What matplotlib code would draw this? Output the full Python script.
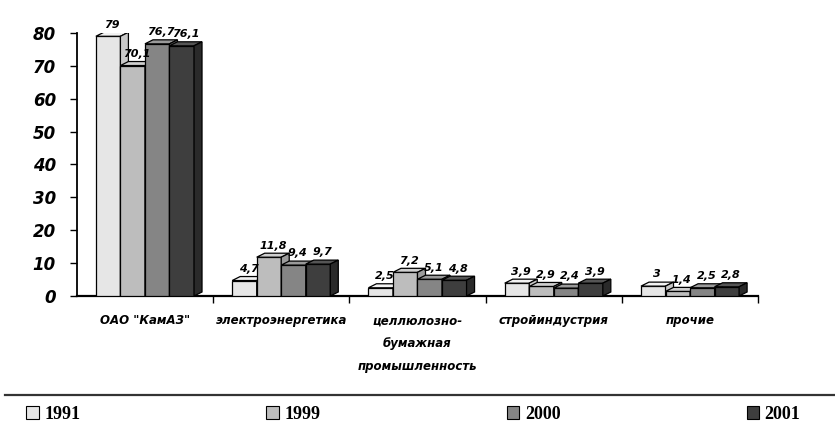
import matplotlib.pyplot as plt
from matplotlib.patches import Polygon, Patch
from matplotlib.lines import Line2D
import numpy as np

categories = ['ОАО "КамАЗ"', 'электроэнергетика', 'целлюлозно-\nбумажная\nпромышленность',
              'стройиндустрия', 'прочие']
years = ['1991', '1999', '2000', '2001']
v1991 = [79, 4.7, 2.5, 3.9, 3]
v1999 = [70.1, 11.8, 7.2, 2.9, 1.4]
v2000 = [76.7, 9.4, 5.1, 2.4, 2.5]
v2001 = [76.1, 9.7, 4.8, 3.9, 2.8]
series = [v1991, v1999, v2000, v2001]

front = ['#e6e6e6', '#bdbdbd', '#858585', '#3e3e3e']
top = ['#f2f2f2', '#cfcfcf', '#9a9a9a', '#555555']
side = ['#c8c8c8', '#9c9c9c', '#666666', '#2a2a2a']

fig = plt.figure(figsize=(8.35, 4.34), dpi=100)
ax = fig.add_axes([0.092, 0.318, 0.816, 0.606])

ax.set_xlim(-0.5, 4.5)
ax.set_ylim(0, 80)

w = 0.18
# 3d depth: ~8 px right, ~4 px up
ax_w_px = 0.816 * 835
ax_h_px = 0.606 * 434
dx = 8 * 5.0 / ax_w_px
dy = 4 * 80.0 / ax_h_px

x = np.arange(len(categories))
z = 3
for j in range(len(categories)):
    for i, vals in enumerate(series):
        xc = x[j] + (i - 1.5) * w
        h = vals[j]
        x0, x1 = xc - w / 2, xc + w / 2
        ax.bar(xc, h, w, color=front[i], edgecolor='black', linewidth=0.9, zorder=z)
        ax.add_patch(Polygon([(x0, h), (x1, h), (x1 + dx, h + dy), (x0 + dx, h + dy)],
                             closed=True, facecolor=top[i], edgecolor='black',
                             linewidth=0.9, zorder=z + 0.1))
        ax.add_patch(Polygon([(x1, 0), (x1 + dx, dy), (x1 + dx, h + dy), (x1, h)],
                             closed=True, facecolor=side[i], edgecolor='black',
                             linewidth=0.9, zorder=z + 0.1))
        lbl = ('%g' % h).replace('.', ',')
        ax.text(xc + dx / 2, h + dy + 0.8, lbl, ha='center', va='bottom',
                fontsize=8, fontweight='bold', style='italic', zorder=20)
        z += 1

for s in ['top', 'right']:
    ax.spines[s].set_visible(False)
ax.spines['left'].set_linewidth(1.3)
ax.spines['bottom'].set_linewidth(1.6)

ax.set_yticks(range(0, 81, 10))
ax.tick_params(axis='y', direction='out', length=5, width=1, labelsize=12, pad=10)
for t in ax.get_yticklabels():
    t.set_fontweight('bold')
    t.set_fontstyle('italic')

ax.set_xticks([0.5, 1.5, 2.5, 3.5, 4.5])
ax.set_xticklabels([])
ax.tick_params(axis='x', direction='out', length=5, width=1)

for j, c in enumerate(categories):
    ax.text(x[j], -5.5, c, ha='center', va='top', fontsize=8.5, fontweight='bold',
            style='italic', linespacing=2.0, transform=ax.transData, clip_on=False)

fig.add_artist(Line2D([0.006, 1.0], [0.09, 0.09], color='#333333', linewidth=1.6))

handles = [Patch(facecolor=front[i], edgecolor='black', linewidth=0.8) for i in range(4)]
fig.legend(handles, years, ncol=4, loc='lower left', bbox_to_anchor=(0.012, -0.012, 0.966, 0.07),
           mode='expand', frameon=False, handlelength=0.7, handleheight=0.7, handletextpad=0.3,
           prop={'family': 'Liberation Serif', 'weight': 'bold', 'size': 13})

fig.savefig('out.png', dpi=100)
